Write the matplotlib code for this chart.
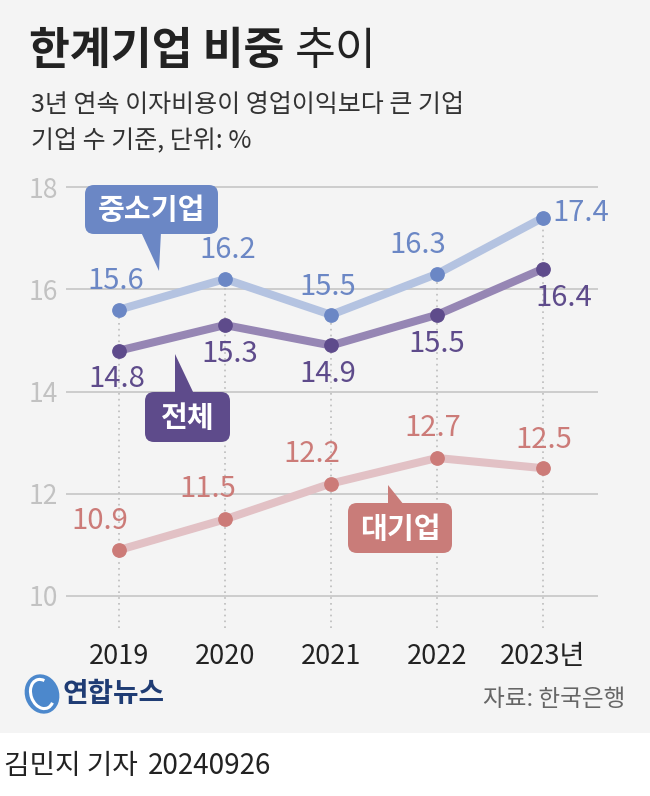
import matplotlib
matplotlib.use('Agg')
import matplotlib.pyplot as plt
from matplotlib.patches import FancyBboxPatch, Polygon, Rectangle, Ellipse, Arc
import matplotlib.transforms as mtransforms

plt.rcParams['font.family'] = ['Noto Sans CJK KR', 'DejaVu Sans']

# ---------------- data ----------------
years = ['2019', '2020', '2021', '2022', '2023년']
sme = [15.6, 16.2, 15.5, 16.3, 17.4]      # 중소기업
total = [14.8, 15.3, 14.9, 15.5, 16.4]    # 전체
large = [10.9, 11.5, 12.2, 12.7, 12.5]    # 대기업
yticks = [10, 12, 14, 16, 18]
series_names = ['중소기업', '전체', '대기업']

title_bold = '한계기업 비중'
title_light = '추이'
subtitle1 = '3년 연속 이자비용이 영업이익보다 큰 기업'
subtitle2 = '기업 수 기준, 단위: %'
source = '자료: 한국은행'
byline = '김민지 기자'
date = '20240926'
logo_text = '연합뉴스'

# ---------------- figure ----------------
W, H = 650, 796
fig = plt.figure(figsize=(W / 100, H / 100), dpi=100)
fig.patch.set_facecolor('white')
PX = mtransforms.Affine2D().scale(1 / W, -1 / H).translate(0, 1) + fig.transFigure

fig.patches.append(Rectangle((0, 0), W, 733, transform=PX, facecolor='#f4f4f4',
                             edgecolor='none', zorder=-10))

# axes region in pixels: left 66, right 598, top 180, bottom 628
L, R, T, B = 66, 598, 180, 628
ax = fig.add_axes([L / W, (H - B) / H, (R - L) / W, (B - T) / H])
ax.set_zorder(1)
ax.set_facecolor('none')
xs = list(range(len(years)))
ax.set_xlim((L - 119) / 106, (R - 119) / 106)
ax.set_ylim(18 - (B - 187) / 51.125, 18 + (187 - T) / 51.125)
for s in ax.spines.values():
    s.set_visible(False)

ax.set_yticks(yticks)
ax.set_yticklabels([str(v) for v in yticks])
ax.tick_params(axis='y', length=0, pad=6, labelsize=19, labelcolor='#c2c2c2')
ax.yaxis.grid(True, color='#c9c9c9', lw=1.3)
ax.set_xticks(xs)
ax.set_xticklabels(years)
ax.tick_params(axis='x', length=0, pad=11, labelsize=19.5, labelcolor='#222222')
ax.set_axisbelow(True)

ymin = ax.get_ylim()[0]
tops = [max(a, b, c) for a, b, c in zip(sme, total, large)]
ax.vlines(xs, ymin, tops, colors='#bcbcbc', linestyles=(0, (1, 2.5)), lw=1.2, zorder=1)

series = [
    (sme, '#b4c3e1', '#6b87c5'),
    (total, '#9686b4', '#5e4b8b'),
    (large, '#e2c1c5', '#cc7b78'),
]
for vals, lc, mc in series:
    ax.plot(xs, vals, color=lc, lw=5.8, solid_capstyle='round', zorder=3, clip_on=False)
    ax.plot(xs, vals, 'o', color=mc, ms=9.6, zorder=4, clip_on=False)

# label offsets in pixels (dx, dy)
offs = [
    [(-3, 29), (3, 29), (-3, 28), (-19, 29), (38, 5)],
    [(-2, -28), (5, -29), (-3, -29), (0, -29), (21, -29)],
    [(-19, 29), (-17, 30), (-19, 30), (-4, 30), (1, 28)],
]
for (vals, lc, mc), off in zip(series, offs):
    for x, v, (dx, dy) in zip(xs, vals, off):
        ax.annotate(f'{v:.1f}', (x, v), xytext=(dx, dy), textcoords='offset pixels',
                    ha='center', va='center', fontsize=21, color=mc, zorder=5,
                    annotation_clip=False)

# callouts
def callout(box, tail, text, color):
    x0, y0, x1, y1 = box
    fig.patches.append(FancyBboxPatch((x0, y0), x1 - x0, y1 - y0,
                                      boxstyle='round,pad=0,rounding_size=9',
                                      transform=PX, facecolor=color, edgecolor='none', zorder=6))
    fig.patches.append(Polygon(tail, closed=True, transform=PX, facecolor=color,
                               edgecolor='none', zorder=6))
    fig.text((x0 + x1) / 2, (y0 + y1) / 2 + 1, text, transform=PX, ha='center', va='center',
             fontsize=21, fontweight='bold', color='white', zorder=7)

callout((85, 185, 218, 234), [(141, 232), (161, 232), (159, 271)], series_names[0], '#6b87c5')
callout((145, 392, 230, 442), [(175, 354), (175, 394), (194, 394)], series_names[1], '#5e4b8b')
callout((348, 503, 452, 553), [(388, 485), (388, 505), (404, 505)], series_names[2], '#c97c79')

# title
t1 = fig.text(29, 51, title_bold, transform=PX, ha='left', va='center',
              fontsize=32, fontweight='bold', color='#222222')
fig.canvas.draw()
bb = t1.get_window_extent()
fig.text(bb.x1 + 10, 51, title_light, transform=mtransforms.blended_transform_factory(
    mtransforms.IdentityTransform(), PX), ha='left', va='center',
    fontsize=32, fontweight='light', color='#222222')

fig.text(31, 105, subtitle1, transform=PX, ha='left', va='center', fontsize=18, color='#333333')
fig.text(31, 140, subtitle2, transform=PX, ha='left', va='center', fontsize=18, color='#333333')

# logo
fig.patches.append(Ellipse((42, 694), 34, 40, angle=-20, transform=PX,
                           facecolor='#4c88cc', edgecolor='none', zorder=5))
fig.patches.append(Arc((42, 694), 22, 30, angle=-20, theta1=60, theta2=300, transform=PX,
                       edgecolor='white', lw=2.2, zorder=6))
fig.text(62, 694, logo_text, transform=PX, ha='left', va='center', fontsize=20,
         fontweight='bold', color='#1f3c74')

fig.text(625, 700, source, transform=PX, ha='right', va='center', fontsize=17, color='#666666')

fig.text(4, 766, byline, transform=PX, ha='left', va='center', fontsize=20, color='#222222')
fig.text(148, 766, date, transform=PX, ha='left', va='center', fontsize=20, color='#222222')

fig.savefig('out.png', dpi=100, facecolor=fig.get_facecolor())
